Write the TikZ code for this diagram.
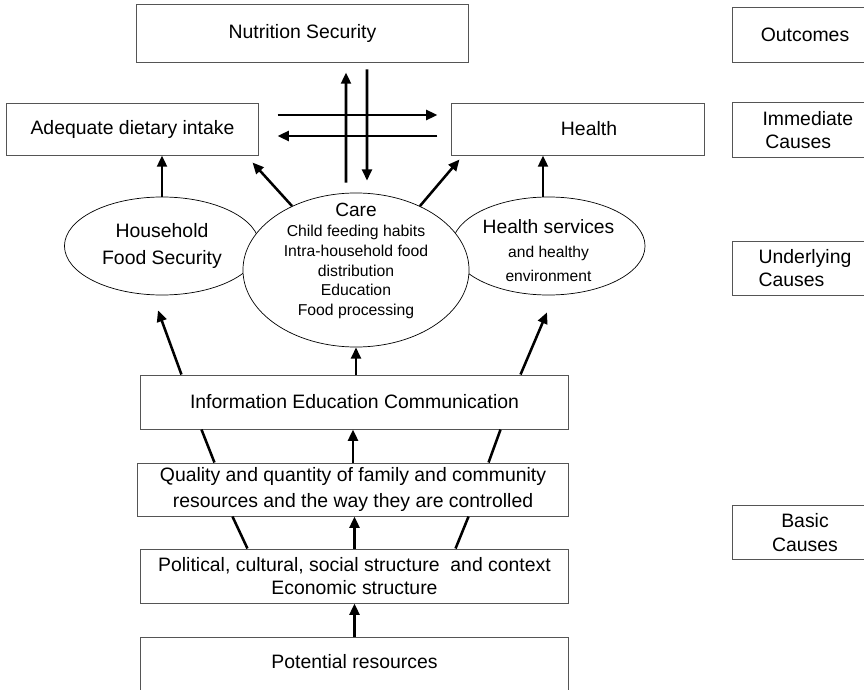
\documentclass[tikz,border=0pt]{standalone}
\usepackage{fontspec}
\setmainfont{Liberation Sans}
\usepackage{tikz}
\usetikzlibrary{shapes.geometric, arrows.meta, positioning, calc}
\usepackage{xcolor}
\definecolor{FrameGray}{HTML}{555555}
\definecolor{LineBlack}{HTML}{000000}
\newcommand{\boxfont}{\fontsize{13.8}{16.5}\selectfont}
\newcommand{\ovalfont}{\fontsize{11.2}{14.2}\selectfont}
\tikzset{
    % Box styles - thin grey frames
    mainbox/.style={
        rectangle,
        draw=FrameGray,
        line width=0.7pt,
        inner sep=0pt,
        align=center,
        font=\boxfont
    },
    levelbox/.style={
        mainbox,
        minimum width=3.6cm,
        minimum height=1.35cm
    },
    % Oval styles
    causeoval/.style={
        ellipse,
        draw=LineBlack,
        fill=white,
        line width=0.5pt,
        inner sep=0pt,
        align=center,
        font=\boxfont
    },
    % Arrow styles - straight lines only
    arrow/.style={
        -{Triangle[length=8pt, width=7pt]},
        line width=1.8pt,
        draw=LineBlack
    },
    link/.style={
        line width=1.8pt,
        draw=LineBlack
    }
}
\begin{document}
\begin{tikzpicture}[x=0.025cm, y=-0.025cm]
    \useasboundingbox (0,0) rectangle (864,690);

    % Levels on the right
    \node[levelbox] (outcomes) at (805,35) {Outcomes};
    \node[levelbox, align=left] (immediate) at (805,130) {\hspace*{4pt}Immediate\\\hspace*{6pt}Causes};
    \node[levelbox, align=left] (underlying) at (805,268) {Underlying\\Causes};
    \node[levelbox] (basic) at (805,532.5) {Basic\\Causes};

    % Outcome and immediate causes
    \node[mainbox, minimum width=8.275cm, minimum height=1.425cm] (nutrition) at (302.5,33.5) {Nutrition Security};
    \node[mainbox, minimum width=6.275cm, minimum height=1.3cm] (dietary) at (132.5,129) {Adequate dietary intake};
    \node[mainbox, minimum width=6.3cm, minimum height=1.3cm] (health) at (578,129) {\hspace*{0.55cm}Health};

    % Underlying causes
    \node[causeoval, minimum width=4.875cm, minimum height=2.45cm,
          font=\fontsize{13.8}{19}\selectfont] (household) at (162,246) {Household\\Food Security};
    \node[causeoval, minimum width=4.825cm, minimum height=2.45cm] (services) at (548.5,246) {};
    \node[align=center, inner sep=0pt, font=\fontsize{11.1}{17}\selectfont] (servicestext) at (548.5,251)
          {\fontsize{13.7}{17}\selectfont Health services\\\fontsize{11.1}{17}\selectfont and healthy\\environment};
    \node[causeoval, minimum width=5.65cm, minimum height=3.85cm] (care) at (356,270) {};
    \node[align=center, inner sep=0pt, font=\ovalfont] (caretext) at (356,261)
          {\fontsize{13.6}{15.6}\selectfont Care\\\ovalfont Child feeding habits\\Intra-household food\\distribution\\Education\\Food processing};

    % Basic causes
    \node[mainbox, minimum width=10.675cm, minimum height=1.35cm] (iec) at (354.5,402) {Information Education Communication};
    \node[mainbox, minimum width=10.75cm, minimum height=1.325cm,
          font=\fontsize{13.8}{19}\selectfont] (resources) at (353,489.5)
          {Quality and quantity of family and community\\resources and the way they are controlled};
    \node[mainbox, minimum width=10.675cm, minimum height=1.35cm] (structure) at (354.5,576)
          {Political, cultural, social structure \ and context\\Economic structure};
    \node[mainbox, anchor=north, minimum width=10.675cm, text height=22pt, text depth=50pt] (potential) at (354.5,637) {Potential resources};

    % Top crossing arrows
    \draw[arrow] ([shift={(19,-14)}]dietary.east) -- ([shift={(-14,-14)}]health.west);
    \draw[arrow] ([shift={(-14,7)}]health.west) -- ([shift={(19,7)}]dietary.east);
    \draw[arrow] ([shift={(-10,-10)}]care.north) -- ([shift={(43.5,10)}]nutrition.south);
    \draw[arrow] ([shift={(64.5,7)}]nutrition.south) -- ([shift={(11,-12)}]care.north);

    % Underlying to immediate
    \draw[arrow] (household.north) -- (household.north |- dietary.south);
    \draw[arrow] (care.135) -- ([shift={(-6,7)}]dietary.south east);
    \draw[arrow] (care.45) -- ([shift={(8,4)}]health.south west);
    \draw[arrow] ([shift={(-5.5,0)}]services.north) -- ([shift={(-5.5,0)}]services.north |- health.south);

    % Basic to underlying
    \draw[arrow] ([shift={(41,0)}]iec.north west) -- ([shift={(-4,15)}]household.south);
    \draw[arrow] (care.south |- iec.north) -- (care.south);
    \draw[arrow] ([shift={(-48,0)}]iec.north east) -- ([shift={(-1.5,17)}]services.south);

    \draw[link] ([shift={(77,0)}]resources.north west) -- ([shift={(61,0)}]iec.south west);
    \draw[link] ([shift={(-80,0)}]resources.north east) -- ([shift={(-68,0)}]iec.south east);
    \draw[arrow] (resources.north) -- (resources.north |- iec.south);

    \draw[link] ([shift={(107,0)}]structure.north west) -- ([shift={(95,0)}]resources.south west);
    \draw[link] ([shift={(-113,0)}]structure.north east) -- ([shift={(-100,0)}]resources.south east);
    \draw[arrow] (structure.north) -- (structure.north |- resources.south);

    \draw[arrow] (potential.north) -- (potential.north |- structure.south);
\end{tikzpicture}
\end{document}
